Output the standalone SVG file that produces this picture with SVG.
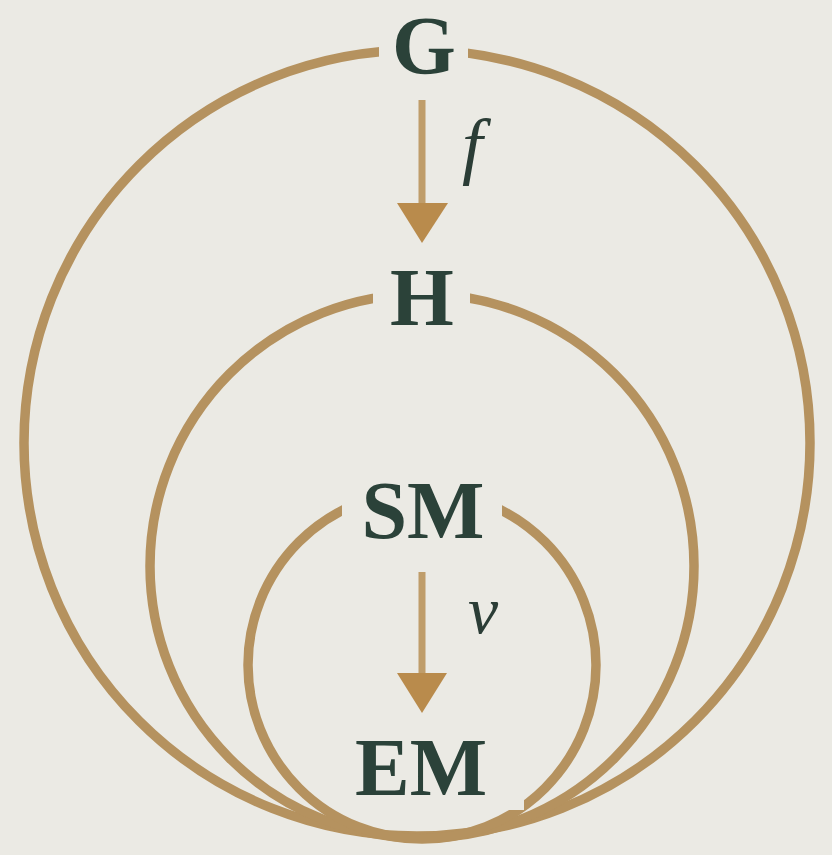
<svg xmlns="http://www.w3.org/2000/svg" width="832" height="855" viewBox="0 0 832 855">
<style>
.ring{fill:none;stroke:#b5925f;stroke-width:9.5}
.mask{fill:#ebeae4}
.lbl{font-family:"Liberation Serif","Times New Roman",serif;font-weight:bold;font-size:82px;fill:#2b4239;text-anchor:middle}
.it{font-family:"Liberation Serif","Times New Roman",serif;font-style:italic;fill:#2b3d36}
.shaft{stroke:#bf9d6a;stroke-width:7}
.head{fill:#b98b4c}
</style>
<rect width="832" height="855" fill="#ebeae4"/>
<g id="rings">
<circle class="ring" cx="417" cy="443" r="393"/>
<circle class="ring" cx="422" cy="566" r="272"/>
<circle class="ring" cx="422" cy="665" r="174"/>
</g>
<g id="connectors">
<line class="shaft" x1="422" y1="100" x2="422" y2="206"/>
<polygon class="head" points="397,203 448,203 422,243"/>
<line class="shaft" x1="422" y1="572" x2="422" y2="676"/>
<polygon class="head" points="397,673 447,673 422,713"/>
</g>
<g id="G">
<rect class="mask" x="379" y="8" width="89" height="80"/>
<text class="lbl" x="424" y="73">G</text>
</g>
<g id="H">
<rect class="mask" x="373" y="262" width="97" height="72"/>
<text class="lbl" x="422" y="325">H</text>
</g>
<g id="SM">
<rect class="mask" x="342" y="478" width="160" height="68"/>
<text class="lbl" x="423" y="538">SM</text>
</g>
<g id="EM">
<rect class="mask" x="346" y="732" width="178" height="78"/>
<text class="lbl" x="421" y="795">EM</text>
</g>
<g id="f">
<text class="it" x="462" y="170" font-size="74">f</text>
</g>
<g id="v">
<text class="it" x="468" y="633" font-size="68">v</text>
</g>
</svg>
